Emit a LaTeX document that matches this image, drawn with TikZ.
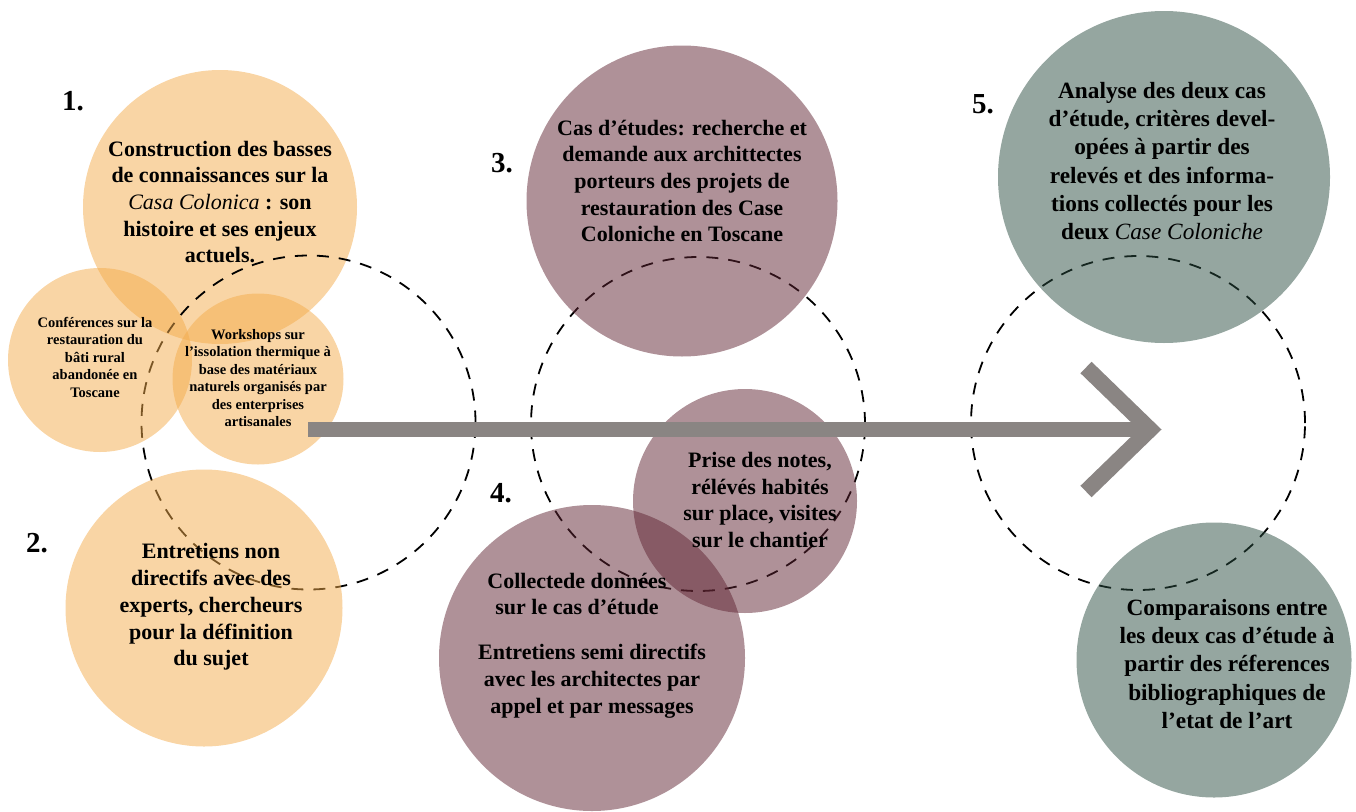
\documentclass[tikz,border=0pt]{standalone}
\usepackage{fontspec}
\setmainfont{Liberation Serif}
\begin{document}
\definecolor{ochre}{RGB}{243,171,75}
\definecolor{plum}{RGB}{95,36,50}
\definecolor{sage}{RGB}{43,77,65}
\definecolor{arrowgray}{RGB}{138,133,131}
\begin{tikzpicture}[x=1pt,y=-1pt,
  blob/.style={circle,draw=none,inner sep=0pt,outer sep=0pt,fill opacity=0.5,minimum size=#1},
  ochreblob/.style={blob=#1,fill=ochre},
  plumblob/.style={blob=#1,fill=plum},
  sageblob/.style={blob=#1,fill=sage},
  ring/.style={draw=black,line width=1.8pt,dash pattern=on 12pt off 10pt},
  txt/.style={align=center,inner sep=0pt,font=\bfseries\fontsize{22}{26.7}\selectfont},
  txtbig/.style={align=center,inner sep=0pt,font=\bfseries\fontsize{23.3}{28.3}\selectfont},
  txtsmall/.style={align=center,inner sep=0pt,font=\bfseries\fontsize{14.5}{17.5}\selectfont},
  num/.style={anchor=base,inner sep=0pt,font=\bfseries\fontsize{29}{31}\selectfont},
  bar/.style={draw=arrowgray,line width=15pt},
  chevron/.style={draw=arrowgray,line width=16pt,miter limit=10}
]
\useasboundingbox (0,0) rectangle (1356,811);

% phase 1 and 2: knowledge base
\node[ochreblob=274pt] (c1) at (220,207) {};
\draw[ring] (308.5,422.5) circle[radius=167pt];
\node[ochreblob=184pt] (conf) at (100,360) {};
\node[ochreblob=171pt] (work) at (258,379) {};
\node[ochreblob=277pt] (c2) at (204,608) {};

% phase 3 and 4: case studies
\draw[ring] (698,424) circle[radius=167pt];
\node[plumblob=311pt] (c3) at (682,201) {};
\node[plumblob=224pt] (prise) at (745,501) {};
\node[plumblob=306pt] (c4) at (592,658) {};

% phase 5: analysis
\draw[ring] (1138,423) circle[radius=167pt];
\node[sageblob=332pt] (c5) at (1164,177) {};
\node[sageblob=275pt] (c6) at (1214,660) {};

% main arrow
\coordinate (arrS) at (308,429.5);
\coordinate (arrE) at (1150,429.5);
\draw[bar] (arrS) -- (arrE);
\draw[chevron] (arrE) ++(-64,-62) -- (arrE) -- ++(-64,62);

% step numbers
\node[num] (n1) at (73,110) {1.};
\node[num] (n2) at (37,552) {2.};
\node[num] (n3) at (502,172) {3.};
\node[num] (n4) at (501,502) {4.};
\node[num] (n5) at (983,113) {5.};

% texts
\node[txt] (t1) at (220,202) {Construction des basses\\de connaissances sur la\\\mdseries\itshape Casa Colonica\upshape\bfseries{} : son\\histoire et ses enjeux\\actuels.};
\node[txtsmall] (tconf) at (95,357) {Conférences sur la\\restauration du\\bâti rural\\abandonée en\\Toscane};
\node[txtsmall] (twork) at (258,378) {Workshops sur\\l’issolation thermique à\\base des matériaux\\naturels organisés par\\des enterprises\\artisanales};
\node[txt] (t2) at (211,607) {Entretiens non\\directifs avec des\\experts, chercheurs\\pour la définition\\du sujet};
\node[txt] (t3) at (682,181) {Cas d’études: recherche et\\demande aux archittectes\\porteurs des projets de\\restauration des Case\\Coloniche en Toscane};
\node[txt] (tprise) at (760,500) {Prise des notes,\\rélévés habités\\sur place, visites\\sur le chantier};
\node[txt] (t4a) at (577,594) {Collectede données\\sur le cas d’étude};
\node[txt] (t4b) at (592,681) {Entretiens semi directifs\\avec les architectes par\\appel et par messages};
\node[txtbig] (t5) at (1162,161) {Analyse des deux cas\\d’étude, critères devel-\\opées à partir des\\relevés et des informa-\\tions collectés pour les\\deux \mdseries\itshape Case Coloniche};
\node[txtbig] (t6) at (1227,664) {Comparaisons entre\\les deux cas d’étude à\\partir des réferences\\bibliographiques de\\l’etat de l’art};
\end{tikzpicture}
\end{document}
